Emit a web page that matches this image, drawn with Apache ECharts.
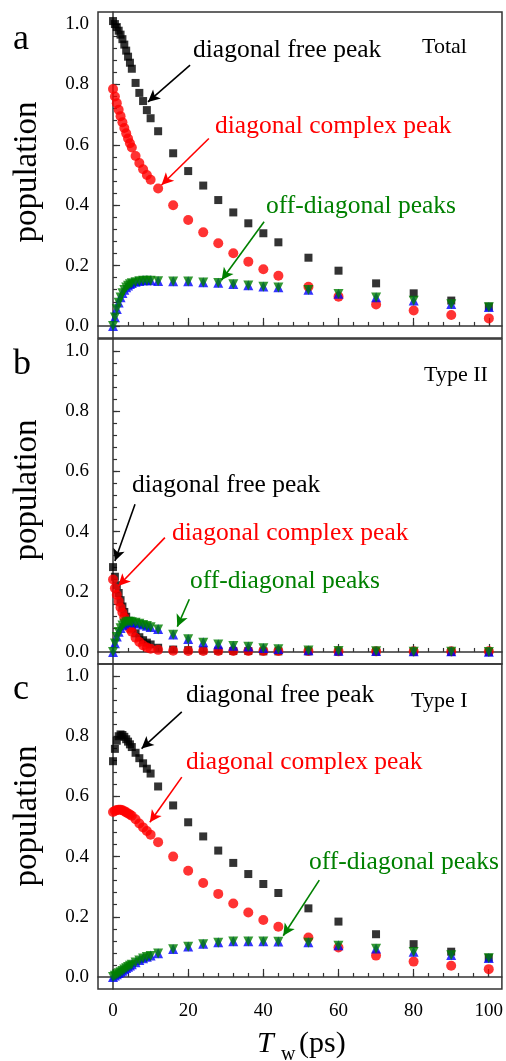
<!DOCTYPE html>
<html><head><meta charset="utf-8">
<script src="https://cdn.jsdelivr.net/npm/echarts@6/dist/echarts.min.js"></script>
<style>html,body{margin:0;padding:0;background:#fff}#c{width:506px;height:1061px}</style>
</head><body><div id="c"></div>
<script>
// waiting time T_w (ps)
const tw = [0,0.5,1,1.5,2,2.5,3,3.5,4,4.5,5,6,7,8,9,10,12,16,20,24,28,32,36,40,44,52,60,70,80,90,100];

// Panel a: Total
const aFree    = [1.01,1.0,0.99,0.978,0.965,0.95,0.932,0.912,0.892,0.872,0.852,0.805,0.772,0.745,0.715,0.688,0.645,0.572,0.513,0.465,0.417,0.376,0.340,0.307,0.277,0.226,0.183,0.141,0.108,0.084,0.064];
const aComplex = [0.785,0.76,0.738,0.716,0.695,0.675,0.656,0.638,0.621,0.605,0.591,0.563,0.54,0.519,0.5,0.484,0.455,0.400,0.351,0.310,0.274,0.241,0.213,0.188,0.166,0.130,0.097,0.071,0.051,0.036,0.025];
const aOff1    = [0.0,0.029,0.056,0.078,0.095,0.109,0.12,0.128,0.134,0.139,0.142,0.146,0.149,0.151,0.151,0.151,0.149,0.148,0.148,0.145,0.143,0.139,0.135,0.131,0.128,0.12,0.107,0.095,0.084,0.073,0.063];
const aOff2    = [0.0,0.028,0.055,0.077,0.094,0.108,0.119,0.127,0.133,0.138,0.141,0.145,0.148,0.150,0.150,0.150,0.148,0.147,0.147,0.144,0.142,0.138,0.134,0.130,0.127,0.119,0.106,0.094,0.083,0.072,0.062];

// Panel b: Type II
const bFree    = [0.282,0.25,0.222,0.196,0.172,0.151,0.133,0.117,0.103,0.09,0.079,0.062,0.049,0.039,0.031,0.025,0.014,0.008,0.006,0.005,0.004,0.003,0.003,0.002,0.002,0.002,0.001,0.001,0.001,0.0,0.0];
const bComplex = [0.241,0.212,0.19,0.168,0.148,0.131,0.115,0.101,0.089,0.077,0.067,0.047,0.033,0.022,0.015,0.011,0.007,0.004,0.003,0.003,0.003,0.003,0.003,0.003,0.003,0.003,0.002,0.002,0.002,0.002,0.002];
const bOff1    = [0.0,0.029,0.051,0.067,0.08,0.089,0.095,0.099,0.101,0.101,0.1,0.098,0.095,0.091,0.087,0.083,0.076,0.058,0.043,0.032,0.026,0.021,0.018,0.013,0.01,0.006,0.004,0.003,0.002,0.002,0.001];
const bOff2    = [0.0,0.028,0.05,0.066,0.079,0.088,0.094,0.098,0.1,0.1,0.099,0.097,0.094,0.09,0.086,0.082,0.075,0.057,0.042,0.031,0.025,0.02,0.017,0.012,0.009,0.005,0.003,0.002,0.001,0.001,0.0];

// Panel c: Type I
const cFree    = [0.717,0.758,0.785,0.8,0.806,0.804,0.798,0.79,0.782,0.773,0.764,0.745,0.727,0.71,0.692,0.676,0.633,0.570,0.514,0.467,0.420,0.379,0.342,0.309,0.279,0.228,0.184,0.142,0.109,0.084,0.064];
const cComplex = [0.548,0.552,0.555,0.556,0.556,0.554,0.551,0.547,0.543,0.54,0.536,0.524,0.51,0.497,0.485,0.473,0.448,0.40,0.353,0.312,0.276,0.244,0.214,0.189,0.167,0.131,0.098,0.071,0.051,0.037,0.026];
const cOff1    = [0.0,0.005,0.009,0.013,0.017,0.021,0.026,0.03,0.034,0.038,0.042,0.049,0.056,0.062,0.067,0.071,0.079,0.093,0.101,0.11,0.115,0.119,0.119,0.119,0.118,0.115,0.105,0.095,0.084,0.073,0.063];
const cOff2    = [0.0,0.004,0.008,0.012,0.016,0.02,0.025,0.029,0.033,0.037,0.041,0.048,0.055,0.061,0.066,0.07,0.078,0.092,0.1,0.109,0.114,0.118,0.118,0.118,0.117,0.114,0.104,0.094,0.083,0.072,0.062];

// tick values
const xMajorTicks = [0,20,40,60,80,100];
const xMinorTicks = [0,4,8,12,16,20,24,28,32,36,40,44,48,52,56,60,64,68,72,76,80,84,88,92,96,100];
const yMajorTicks = [0,0.2,0.4,0.6,0.8,1.0];
const yMinorTicks = [0,0.04,0.08,0.12,0.16,0.2,0.24,0.28,0.32,0.36,0.4,0.44,0.48,0.52,0.56,0.6,0.64,0.68,0.72,0.76,0.8,0.84,0.88,0.92,0.96,1.0];

const panels = [
  {free:aFree, complex:aComplex, off1:aOff1, off2:aOff2},
  {free:bFree, complex:bComplex, off1:bOff1, off2:bOff2},
  {free:cFree, complex:cComplex, off1:cOff1, off2:cOff2}
];

// annotation arrows in data coordinates [from, to]
const arrows = [
  {free:[[20.5,0.864],[9.3,0.742]], complex:[[25.5,0.621],[12.9,0.467]], off:[[40.2,0.345],[28.9,0.152]]},
  {free:[[5.85,0.491],[0.5,0.302]], complex:[[13.8,0.38],[1.4,0.219]], off:[[20.3,0.175],[17.1,0.084]]},
  {free:[[18.3,0.881],[7.6,0.759]], complex:[[18.3,0.664],[9.8,0.514]], off:[[54.9,0.322],[45.3,0.137]]}
];

const FONT = "'Liberation Serif','Times New Roman',serif";
const BLACK = '#000000', RED = '#ff0000', BLUE = '#0000ff', GREEN = '#008000';
const AX = '#333333';

const grids = [
  {left:98, right:4, top:12, height:326},
  {left:98, right:4, top:339, height:325},
  {left:98, right:4, top:664, height:325}
].map(g => Object.assign(g, {show:true, borderColor:AX, borderWidth:1.5, backgroundColor:'transparent'}));

const xAxis = [], yAxis = [], series = [];
panels.forEach((p, i) => {
  xAxis.push({gridIndex:i, type:'value', min:-4, max:103.5, position:'bottom',
    axisLine:{show:true, lineStyle:{color:AX, width:1.5}},
    axisTick:{show:true, inside:true, length:4, customValues:xMinorTicks, lineStyle:{color:AX, width:1.2}},
    axisLabel:{show:false}, splitLine:{show:false}});
  xAxis.push({gridIndex:i, type:'value', min:-4, max:103.5, position:'bottom',
    axisLine:{show:false},
    axisTick:{show:true, inside:true, length:8, customValues:xMajorTicks, lineStyle:{color:AX, width:1.2}},
    axisLabel:{show:i===2, customValues:xMajorTicks, fontFamily:FONT, fontSize:19, color:'#000', margin:13},
    splitLine:{show:false}});
  yAxis.push({gridIndex:i, type:'value', min:-0.04, max:1.04, position:'left',
    axisLine:{show:true, lineStyle:{color:AX, width:1.5}},
    axisTick:{show:true, inside:true, length:4, customValues:yMinorTicks, lineStyle:{color:AX, width:1.2}},
    axisLabel:{show:false}, splitLine:{show:false}});
  yAxis.push({gridIndex:i, type:'value', min:-0.04, max:1.04, position:'left',
    axisLine:{show:false},
    axisTick:{show:true, inside:true, length:7, customValues:yMajorTicks, lineStyle:{color:AX, width:1.2}},
    axisLabel:{show:true, customValues:yMajorTicks, fontFamily:FONT, fontSize:19, color:'#000', margin:9,
      formatter: v => Number(v).toFixed(1)},
    splitLine:{show:false}});

  const mk = (seg, color) => ({silent:true, animation:false, symbol:['none','arrow'], symbolSize:[9,12],
    label:{show:false}, lineStyle:{color:color, width:1.6, type:'solid'}, itemStyle:{color:color},
    emphasis:{disabled:true},
    data:[[{coord:seg[0]},{coord:seg[1]}]]});
  const base = {type:'scatter', xAxisIndex:i*2, yAxisIndex:i*2, animation:false, emphasis:{disabled:true}};
  const pts = arr => tw.map((x,k) => [x, arr[k]]);
  series.push(Object.assign({}, base, {name:'free', data:pts(p.free), symbol:'rect', symbolSize:8,
    itemStyle:{color:BLACK}, markLine:mk(arrows[i].free, BLACK)}));
  series.push(Object.assign({}, base, {name:'complex', data:pts(p.complex), symbol:'circle', symbolSize:10,
    itemStyle:{color:RED}, markLine:mk(arrows[i].complex, RED)}));
  series.push(Object.assign({}, base, {name:'off1', data:pts(p.off1), symbol:'triangle', symbolSize:10,
    itemStyle:{color:BLUE}}));
  series.push(Object.assign({}, base, {name:'off2', data:pts(p.off2), symbol:'triangle', symbolSize:10, symbolRotate:180,
    itemStyle:{color:GREEN}, markLine:mk(arrows[i].off, GREEN)}));
});

const txt = (text, x, y, size, color, extra) => Object.assign({type:'text', x:x, y:y, silent:true, z:100,
  style:{text:text, fill:color, font:size+'px '+FONT, align:'left', verticalAlign:'middle'}}, extra||{});
const rot = (y) => ({type:'text', x:27, y:y, silent:true, z:100, rotation:Math.PI/2,
  style:{text:'population', fill:BLACK, font:'33px '+FONT, align:'center', verticalAlign:'middle'}});

const graphic = [
  txt('a', 13, 40, 36, BLACK), txt('b', 13, 365, 36, BLACK), txt('c', 13, 690, 36, BLACK),
  txt('Total', 422, 47, 22, BLACK), txt('Type II', 424, 375, 22, BLACK), txt('Type I', 411, 701, 22, BLACK),
  txt('diagonal free peak', 193, 50, 25.5, BLACK),
  txt('diagonal complex peak', 215, 126, 25.5, RED),
  txt('off-diagonal peaks', 266, 206, 25.5, GREEN),
  txt('diagonal free peak', 132, 485, 25.5, BLACK),
  txt('diagonal complex peak', 172, 533, 25.5, RED),
  txt('off-diagonal peaks', 190, 581, 25.5, GREEN),
  txt('diagonal free peak', 186, 695, 25.5, BLACK),
  txt('diagonal complex peak', 186, 762, 25.5, RED),
  txt('off-diagonal peaks', 309, 862, 25.5, GREEN),
  rot(172), rot(490), rot(816),
  {type:'text', x:257, y:1044, silent:true, z:100, style:{text:'T', fill:BLACK, font:'italic 30px '+FONT, align:'left', verticalAlign:'middle'}},
  txt('w', 281, 1055, 20, BLACK),
  txt('(ps)', 299, 1044, 30, BLACK)
];

const chart = echarts.init(document.getElementById('c'), null, {renderer:'canvas'});
chart.setOption({animation:false, backgroundColor:'#ffffff', grid:grids, xAxis:xAxis, yAxis:yAxis, series:series, graphic:graphic});
</script></body></html>
